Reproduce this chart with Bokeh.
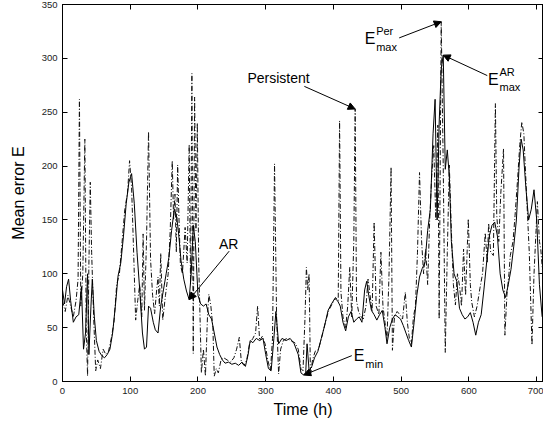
from bokeh.plotting import figure
from bokeh.models import Range1d, LinearAxis, FixedTicker, Label, Arrow, NormalHead
from bokeh.embed import file_html
from bokeh.resources import INLINE

# ---------------- data ----------------
ar_t = [0, 3, 6, 9, 12, 16, 20, 24, 28, 31, 34, 37, 39, 42, 44, 47, 50, 54, 58, 62,
        66, 70, 74, 78, 82, 86, 90, 94, 98, 102, 106, 110, 114, 118, 121, 124, 127, 130, 134, 137,
        141, 145, 149, 153, 157, 161, 165, 168, 171, 175, 179, 183, 187, 190, 193, 196, 200, 204, 208, 212,
        216, 220, 224, 228, 232, 236, 240, 245, 250, 255, 260, 265, 270, 274, 277, 281, 286, 291, 296, 300,
        304, 308, 312, 315, 319, 324, 330, 336, 342, 348, 352, 356, 359, 361, 364, 368, 372, 377, 382, 387,
        392, 397, 402, 406, 410, 414, 418, 422, 426, 430, 434, 438, 442, 446, 449, 452, 456, 460, 464, 468,
        472, 476, 479, 483, 487, 491, 495, 499, 503, 507, 511, 515, 519, 523, 527, 531, 535, 539, 543, 547,
        550, 553, 556, 559, 562, 565, 568, 571, 574, 578, 582, 586, 590, 594, 598, 602, 606, 610, 614, 618,
        622, 626, 630, 634, 638, 642, 646, 650, 654, 658, 662, 666, 670, 674, 677, 680, 684, 688, 692, 696,
        700, 704, 708]
ar_e = [85, 72, 88, 95, 75, 55, 60, 62, 88, 30, 45, 100, 25, 70, 95, 60, 38, 28, 24, 22,
        25, 30, 45, 70, 98, 110, 135, 165, 185, 193, 165, 120, 85, 45, 30, 32, 70, 68, 55, 48,
        45, 70, 85, 100, 115, 140, 160, 155, 140, 112, 95, 84, 76, 100, 145, 130, 80, 72, 70, 72,
        62, 58, 45, 32, 25, 20, 17, 18, 16, 17, 15, 18, 14, 25, 38, 36, 40, 38, 40, 25,
        12, 10, 40, 65, 35, 40, 38, 40, 35, 25, 8, 6, 8, 35, 10, 14, 22, 28, 40, 52,
        66, 72, 77, 75, 70, 55, 47, 60, 65, 55, 58, 60, 55, 85, 93, 80, 66, 62, 57, 62,
        66, 50, 35, 50, 58, 62, 60, 58, 52, 45, 38, 32, 55, 80, 97, 105, 110, 140, 160, 230,
        262, 150, 240, 290, 303, 197, 215, 190, 130, 100, 93, 68, 62, 58, 60, 64, 55, 43, 55, 62,
        85, 110, 135, 145, 148, 135, 100, 85, 78, 90, 104, 125, 150, 200, 225, 215, 180, 150, 160, 178,
        150, 90, 60]

per_t = [0, 4, 8, 12, 16, 20, 23, 25, 27, 30, 33, 35, 37, 39, 41, 43, 46, 49, 52, 56,
         60, 64, 68, 72, 76, 80, 84, 88, 92, 96, 99, 102, 105, 108, 111, 114, 117, 119, 121, 124,
         127, 130, 133, 136, 139, 141, 143, 145, 148, 152, 156, 159, 162, 164, 166, 168, 170, 172, 174, 177,
         181, 184, 187, 189, 191, 193, 195, 197, 199, 201, 203, 205, 208, 211, 214, 216, 219, 222, 224, 227,
         230, 234, 238, 243, 248, 253, 257, 261, 264, 268, 272, 276, 281, 285, 288, 291, 295, 299, 303, 307,
         310, 313, 316, 319, 322, 326, 331, 337, 343, 348, 352, 355, 358, 360, 362, 364, 366, 369, 373, 378,
         383, 388, 393, 398, 403, 407, 409, 411, 414, 418, 421, 424, 427, 430, 432, 434, 437, 441, 444, 448,
         451, 454, 457, 460, 463, 467, 470, 473, 476, 479, 482, 485, 487, 490, 494, 498, 502, 506, 509, 512,
         515, 518, 521, 524, 527, 530, 533, 536, 539, 542, 545, 548, 551, 554, 556, 559, 562, 565, 568, 571,
         574, 577, 580, 583, 586, 589, 592, 595, 599, 602, 604, 608, 612, 616, 620, 624, 627, 629, 632, 636,
         639, 641, 644, 647, 651, 653, 656, 659, 661, 665, 668, 672, 675, 678, 681, 683, 686, 689, 693, 696,
         699, 701, 704, 706, 709]
per_e = [75, 65, 80, 70, 60, 75, 95, 262, 70, 100, 225, 50, 5, 110, 185, 120, 60, 10, 20, 12,
         30, 25, 28, 40, 55, 90, 100, 130, 160, 175, 205, 180, 120, 57, 75, 90, 60, 137, 66, 130,
         232, 113, 80, 63, 85, 97, 70, 119, 57, 80, 100, 140, 205, 150, 174, 120, 201, 150, 109, 100,
         143, 110, 220, 90, 286, 26, 264, 140, 240, 112, 60, 8, 30, 5, 60, 81, 70, 50, 5, 12,
         8, 20, 22, 20, 18, 22, 30, 41, 18, 15, 20, 35, 40, 45, 70, 38, 42, 35, 20, 10,
         40, 202, 60, 7, 30, 38, 40, 38, 36, 30, 12, 10, 60, 106, 85, 100, 5, 20, 28, 30,
         42, 55, 66, 72, 78, 75, 242, 83, 60, 50, 70, 106, 60, 131, 253, 75, 65, 60, 58, 70,
         95, 80, 65, 148, 70, 62, 120, 70, 55, 40, 100, 199, 29, 60, 65, 62, 58, 83, 55, 40,
         35, 60, 70, 120, 194, 131, 100, 123, 90, 150, 191, 219, 150, 238, 58, 334, 200, 27, 120, 201,
         140, 90, 71, 100, 89, 70, 123, 80, 151, 90, 74, 60, 70, 86, 100, 138, 110, 147, 120, 117,
         258, 154, 130, 175, 216, 43, 80, 100, 117, 130, 154, 190, 220, 241, 230, 201, 160, 120, 34, 100,
         140, 167, 130, 123, 99]

x_ticks = [0, 100, 200, 300, 400, 500, 600, 700]
y_ticks = [0, 50, 100, 150, 200, 250, 300, 350]

FONT = "Liberation Sans"

p = figure(width=543, height=420, output_backend="svg", toolbar_location=None,
           x_range=Range1d(0, 710), y_range=Range1d(0, 350),
           min_border_left=62, min_border_top=4, min_border_right=0, min_border_bottom=0)
p.background_fill_color = "white"
p.border_fill_color = "white"
p.outline_line_color = "black"
p.grid.visible = False

for ax in p.xaxis + p.yaxis:
    ax.major_tick_in = 5
    ax.major_tick_out = 0
    ax.minor_tick_line_color = None
    ax.axis_line_color = "black"
    ax.major_tick_line_color = "black"
    ax.major_label_text_font = FONT
    ax.major_label_text_font_size = "9.5px"
    ax.major_label_text_color = "#222222"
    ax.axis_label_text_font = FONT
    ax.axis_label_text_font_size = "16px"
    ax.axis_label_text_font_style = "normal"
    ax.axis_label_text_color = "black"
    ax.major_label_standoff = 6

p.xaxis.ticker = FixedTicker(ticks=x_ticks)
p.yaxis.ticker = FixedTicker(ticks=y_ticks)
p.xaxis.axis_label = "Time (h)"
p.yaxis.axis_label = "Mean error E"
p.xaxis.axis_label_standoff = 4
p.yaxis.axis_label_standoff = 12
p.yaxis.major_label_standoff = 5

# box ticks on top and right (MATLAB style), no labels
for loc, tick in (("above", x_ticks), ("right", y_ticks)):
    ax = LinearAxis(ticker=FixedTicker(ticks=tick), major_tick_in=5, major_tick_out=0,
                    minor_tick_line_color=None, major_label_standoff=0,
                    major_label_overrides={t: "" for t in tick},
                    axis_line_color="black")
    p.add_layout(ax, loc)

# series
p.line(per_t, per_e, line_color="#111111", line_width=1, line_dash="5 2 1 2")
p.line(ar_t, ar_e, line_color="black", line_width=1)

# annotations
def lab(x, y, text, size="14px"):
    p.add_layout(Label(x=x, y=y, text=text, text_font=FONT, text_font_size=size,
                       text_baseline="middle", text_align="left", text_color="black"))

def arrow(x0, y0, x1, y1):
    p.add_layout(Arrow(x_start=x0, y_start=y0, x_end=x1, y_end=y1,
                       line_color="black", line_width=1,
                       end=NormalHead(size=7, fill_color="black", line_color="black")))

i_per_max = per_e.index(max(per_e))
i_ar_max = ar_e.index(max(ar_e))
i_ar_min = ar_e.index(min(ar_e))
i_persist = per_t.index(432)
i_ar = ar_t.index(187)

lab(273, 282, "Persistent")
arrow(357, 274, per_t[i_persist], per_e[i_persist])

lab(446, 318, "E", "16px")
lab(463, 325, "Per", "11px")
lab(463, 311, "max", "11px")
arrow(497, 319, per_t[i_per_max], per_e[i_per_max])

lab(628, 280, "E", "16px")
lab(645, 287, "AR", "11px")
lab(645, 273, "max", "11px")
arrow(627, 284, ar_t[i_ar_max], ar_e[i_ar_max])

lab(231, 128, "AR")
arrow(246, 121, ar_t[i_ar], ar_e[i_ar])

lab(430, 24, "E", "16px")
lab(447, 16, "min", "11px")
arrow(427, 24, ar_t[i_ar_min], ar_e[i_ar_min])

open("out.html", "w").write(file_html(p, INLINE))
